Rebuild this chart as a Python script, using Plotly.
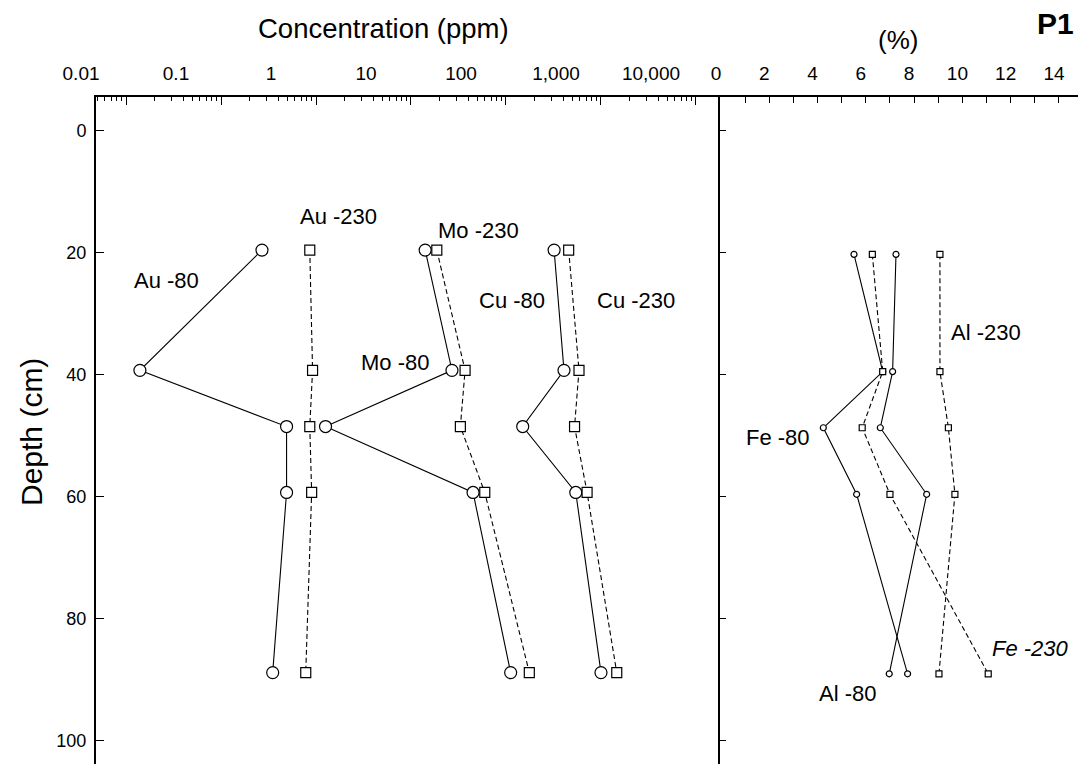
import plotly.graph_objects as go

# ---------------- data ----------------
depth_left = [19.6, 39.3, 48.5, 59.3, 88.8]   # cm, trace elements panel
depth_right = [20.3, 39.5, 48.7, 59.6, 89.0]  # cm, major elements panel

# Concentration (ppm), -80 and -230 mesh fractions
au_80 = [0.27, 0.014, 0.49, 0.49, 0.35]
au_230 = [0.86, 0.92, 0.86, 0.90, 0.78]
mo_80 = [14.1, 27.0, 1.26, 45.0, 112]
mo_230 = [18.7, 37.1, 33.1, 59.8, 176]
cu_80 = [321, 408, 150, 543, 1000]
cu_230 = [457, 587, 527, 714, 1466]

# Percent
fe_80 = [5.51, 6.70, 4.24, 5.62, 7.73]
fe_230 = [6.27, 6.70, 5.85, 7.00, 11.07]
al_80 = [7.25, 7.11, 6.60, 8.52, 6.97]
al_230 = [9.07, 9.07, 9.42, 9.69, 9.03]

depth_ticks = [0, 20, 40, 60, 80, 100]

# ---------------- figure ----------------
OFF = 8  # page body margin in the browser
W, H = 1086 - OFF, 764 - OFF
FONT = "Liberation Sans, Arial, Helvetica, sans-serif"


def fx(p):
    return (p - OFF) / W


def fy(p):
    return 1 - (p - OFF) / H


fig = go.Figure()

left_series = [
    ("Au -80", au_80, "circle", 12, "solid"),
    ("Au -230", au_230, "square", 10, "5px,3px"),
    ("Mo -80", mo_80, "circle", 12, "solid"),
    ("Mo -230", mo_230, "square", 10, "5px,3px"),
    ("Cu -80", cu_80, "circle", 12, "solid"),
    ("Cu -230", cu_230, "square", 10, "5px,3px"),
]
for name, vals, sym, size, dash in left_series:
    fig.add_trace(go.Scatter(
        x=vals, y=depth_left, name=name, mode="lines+markers",
        xaxis="x", yaxis="y",
        line=dict(color="black", width=1.1, dash=dash),
        marker=dict(symbol=sym, size=size, color="white",
                    line=dict(color="black", width=1.2)),
        showlegend=False,
    ))

right_series = [
    ("Fe -80", fe_80, "circle", 6, "solid"),
    ("Fe -230", fe_230, "square", 6, "5px,3px"),
    ("Al -80", al_80, "circle", 6, "solid"),
    ("Al -230", al_230, "square", 6, "5px,3px"),
]
for name, vals, sym, size, dash in right_series:
    fig.add_trace(go.Scatter(
        x=vals, y=depth_right, name=name, mode="lines+markers",
        xaxis="x2", yaxis="y2",
        line=dict(color="black", width=1.1, dash=dash),
        marker=dict(symbol=sym, size=size, color="white",
                    line=dict(color="black", width=1.2)),
        showlegend=False,
    ))

xtickfont = dict(family=FONT, size=19, color="black")
ytickfont = dict(family=FONT, size=18, color="black")

fig.update_layout(
    width=W, height=H,
    margin=dict(l=0, r=0, t=0, b=0),
    paper_bgcolor="white", plot_bgcolor="white",
    font=dict(family=FONT, color="black"),
    showlegend=False,
    xaxis=dict(
        type="log", domain=[fx(96), fx(720)], range=[-2.316, 4.253],
        side="top", anchor="y", showline=True, linecolor="black", linewidth=1.5,
        ticks="inside", ticklen=8, tickwidth=1, tickcolor="black",
        dtick=1, tickformat=",", tickfont=xtickfont,
        ticklabelshift=-45, ticklabelstandoff=8,
        minor=dict(ticks="inside", ticklen=4, dtick="D1", tickcolor="black", showgrid=False),
        showgrid=False, zeroline=False, automargin=False,
    ),
    xaxis2=dict(
        domain=[fx(720), 1], range=[-0.04, 15.12],
        side="top", anchor="y2", showline=True, linecolor="black", linewidth=1.5,
        ticks="inside", ticklen=6, tickwidth=1, tickcolor="black",
        dtick=2, tick0=0, tickfont=xtickfont,
        ticklabelshift=-5, ticklabelstandoff=8,
        minor=dict(ticks="inside", ticklen=6, dtick=1, tickcolor="black", showgrid=False),
        showgrid=False, zeroline=False, automargin=False,
    ),
    yaxis=dict(
        domain=[0, fy(97)], range=[103.77, -5.47], anchor="x",
        showline=True, linecolor="black", linewidth=2,
        ticks="inside", ticklen=8, tickcolor="black",
        tickmode="array", tickvals=depth_ticks, tickfont=ytickfont,
        ticklabelstandoff=4,
        showgrid=False, zeroline=False, automargin=False,
    ),
    yaxis2=dict(
        domain=[0, fy(97)], matches="y", anchor="x2",
        showline=True, linecolor="black", linewidth=1.5,
        ticks="inside", ticklen=6, tickcolor="black",
        tickmode="array", tickvals=depth_ticks, showticklabels=False,
        showgrid=False, zeroline=False, automargin=False,
    ),
)

# ---------------- text ----------------
texts = [
    ("Concentration (ppm)", 383, 28, 27.5),
    ("(%)", 898, 40, 26),
    ("<b>P1</b>", 1055, 23, 30),
    ("Au -230", 338, 216, 22),
    ("Au -80", 166, 280, 22),
    ("Mo -230", 478, 230, 22),
    ("Mo -80", 395, 363, 22),
    ("Cu -80", 512, 300, 22),
    ("Cu -230", 636, 300, 22),
    ("Al -230", 986, 332, 22),
    ("Fe -80", 778, 437, 22),
    ("Al -80", 847, 693, 22),
    ("<i>Fe -230</i>", 1030, 648, 22),
]
for txt, x, y, size in texts:
    fig.add_annotation(
        text=txt, x=fx(x), y=fy(y), xref="paper", yref="paper",
        xanchor="center", yanchor="middle", showarrow=False,
        font=dict(family=FONT, size=size, color="black"),
    )

fig.add_annotation(
    text="Depth (cm)", x=fx(31), y=fy(432), xref="paper", yref="paper",
    xanchor="center", yanchor="middle", showarrow=False, textangle=-90,
    font=dict(family=FONT, size=30, color="black"),
)

fig.write_html("out.html")
